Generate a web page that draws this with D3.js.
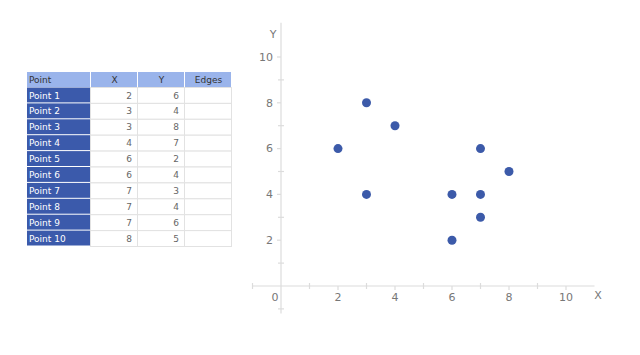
<!DOCTYPE html>
<html>
<head>
<meta charset="utf-8">
<script src="https://cdn.jsdelivr.net/npm/d3@7"></script>
<style>
  body { margin: 0; background: #fff; }
  svg { display: block; font-family: "DejaVu Sans", Verdana, sans-serif; }
</style>
</head>
<body>
<div id="chart"></div>
<script>
const pointNames = ['Point 1', 'Point 2', 'Point 3', 'Point 4', 'Point 5',
  'Point 6', 'Point 7', 'Point 8', 'Point 9', 'Point 10'];
const xValues = [2, 3, 3, 4, 6, 6, 7, 7, 7, 8];
const yValues = [6, 4, 8, 7, 2, 4, 3, 4, 6, 5];
const columns = ['Point', 'X', 'Y', 'Edges'];
const majorTicks = [2, 4, 6, 8, 10];
const minorTicks = [-1, 1, 3, 5, 7, 9];

const width = 640;
const height = 355;
const dotColor = '#3c5aa9';
const axisColor = '#dcdcdc';
const labelColor = '#777';

const points = pointNames.map((name, i) => ({ name, x: xValues[i], y: yValues[i] }));

const svg = d3.select('#chart')
  .append('svg')
  .attr('width', width)
  .attr('height', height);

// table
const colX = [27, 91, 138, 185, 232];
const rowTop = 72;
const headH = 15;
const rowH = 15.9;

const table = svg.append('g').style('font-size', '9px');

table.selectAll('rect.head')
  .data(columns)
  .join('rect')
  .attr('class', 'head')
  .attr('x', (d, i) => colX[i])
  .attr('y', rowTop)
  .attr('width', (d, i) => colX[i + 1] - colX[i] - 1)
  .attr('height', headH)
  .attr('fill', '#9ab4eb');

table.selectAll('text.head')
  .data(columns)
  .join('text')
  .attr('class', 'head')
  .attr('x', (d, i) => i === 0 ? colX[0] + 2 : (colX[i] + colX[i + 1]) / 2)
  .attr('y', rowTop + headH / 2)
  .attr('dy', '0.35em')
  .attr('text-anchor', (d, i) => i === 0 ? 'start' : 'middle')
  .attr('fill', '#333')
  .text(d => d);

const row = table.selectAll('g.row')
  .data(points)
  .join('g')
  .attr('class', 'row')
  .attr('transform', (d, i) => `translate(0,${rowTop + headH + i * rowH})`);

row.append('rect')
  .attr('x', colX[0])
  .attr('y', 0.5)
  .attr('width', colX[1] - colX[0] - 1)
  .attr('height', rowH - 1)
  .attr('fill', '#3b5aab');

row.append('rect')
  .attr('x', colX[1] - 0.5)
  .attr('y', 0.5)
  .attr('width', colX[4] - colX[1])
  .attr('height', rowH)
  .attr('fill', 'white')
  .attr('stroke', '#e2e2e2');

row.selectAll('line.sep')
  .data([colX[2], colX[3]])
  .join('line')
  .attr('class', 'sep')
  .attr('x1', d => d - 0.5)
  .attr('x2', d => d - 0.5)
  .attr('y1', 0.5)
  .attr('y2', rowH + 0.5)
  .attr('stroke', '#e2e2e2');

row.append('text')
  .attr('x', colX[0] + 2)
  .attr('y', rowH / 2 + 0.5)
  .attr('dy', '0.35em')
  .attr('fill', 'white')
  .text(d => d.name);

row.append('text')
  .attr('x', colX[2] - 6)
  .attr('y', rowH / 2 + 0.5)
  .attr('dy', '0.35em')
  .attr('text-anchor', 'end')
  .attr('fill', '#666')
  .text(d => d.x);

row.append('text')
  .attr('x', colX[3] - 6)
  .attr('y', rowH / 2 + 0.5)
  .attr('dy', '0.35em')
  .attr('text-anchor', 'end')
  .attr('fill', '#666')
  .text(d => d.y);

// scatter
const x = d3.scaleLinear().domain([0, 10]).range([281, 566]);
const y = d3.scaleLinear().domain([0, 10]).range([286, 57]);

const axes = svg.append('g')
  .attr('stroke', axisColor)
  .attr('stroke-width', 1.2);

axes.append('line')
  .attr('x1', x(-1))
  .attr('x2', x(11))
  .attr('y1', y(0))
  .attr('y2', y(0));

axes.append('line')
  .attr('x1', x(0))
  .attr('x2', x(0))
  .attr('y1', y(-1.2))
  .attr('y2', y(11.5));

axes.selectAll('line.xmajor')
  .data(majorTicks)
  .join('line')
  .attr('class', 'xmajor')
  .attr('x1', d => x(d))
  .attr('x2', d => x(d))
  .attr('y1', y(0))
  .attr('y2', y(0) + 4);

axes.selectAll('line.xminor')
  .data(minorTicks)
  .join('line')
  .attr('class', 'xminor')
  .attr('x1', d => x(d))
  .attr('x2', d => x(d))
  .attr('y1', y(0) - 3)
  .attr('y2', y(0) + 3);

axes.selectAll('line.ymajor')
  .data(majorTicks)
  .join('line')
  .attr('class', 'ymajor')
  .attr('x1', x(0) - 4)
  .attr('x2', x(0))
  .attr('y1', d => y(d))
  .attr('y2', d => y(d));

axes.selectAll('line.yminor')
  .data(minorTicks)
  .join('line')
  .attr('class', 'yminor')
  .attr('x1', x(0) - 3)
  .attr('x2', x(0) + 3)
  .attr('y1', d => y(d))
  .attr('y2', d => y(d));

const labels = svg.append('g')
  .style('font-size', '11px')
  .attr('fill', labelColor);

labels.selectAll('text.xl')
  .data(majorTicks)
  .join('text')
  .attr('class', 'xl')
  .attr('x', d => x(d))
  .attr('y', y(0) + 11)
  .attr('dy', '0.35em')
  .attr('text-anchor', 'middle')
  .text(d => d);

labels.selectAll('text.yl')
  .data(majorTicks)
  .join('text')
  .attr('class', 'yl')
  .attr('x', x(0) - 8)
  .attr('y', d => y(d))
  .attr('dy', '0.35em')
  .attr('text-anchor', 'end')
  .text(d => d);

labels.append('text')
  .attr('x', x(0) - 6)
  .attr('y', y(0) + 11)
  .attr('dy', '0.35em')
  .attr('text-anchor', 'middle')
  .text('0');

labels.append('text')
  .attr('x', 598)
  .attr('y', y(0) + 9)
  .attr('dy', '0.35em')
  .attr('text-anchor', 'middle')
  .text('X');

labels.append('text')
  .attr('x', x(0) - 8)
  .attr('y', 34)
  .attr('dy', '0.35em')
  .attr('text-anchor', 'middle')
  .text('Y');

svg.append('g')
  .attr('fill', dotColor)
  .selectAll('circle')
  .data(points)
  .join('circle')
  .attr('cx', d => x(d.x))
  .attr('cy', d => y(d.y))
  .attr('r', 4.5);
</script>
</body>
</html>
